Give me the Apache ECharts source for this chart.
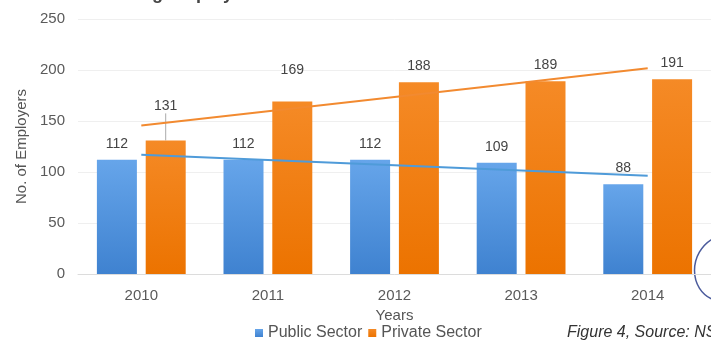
<!DOCTYPE html>
<html>
<head>
<meta charset="utf-8">
<script src="https://cdn.jsdelivr.net/npm/echarts@6/dist/echarts.min.js"></script>
<style>
  html, body { margin: 0; padding: 0; background: #fff; }
  #chart { width: 711px; height: 340px; }
</style>
</head>
<body>
<div id="chart"></div>
<script>
// Employers per sector, 2010-2014
const years = ['2010', '2011', '2012', '2013', '2014'];
const publicSector = [112, 112, 112, 109, 88];
const privateSector = [131, 169, 188, 189, 191];
const yTicks = { min: 0, max: 250, step: 50 };

// Extra lift for private-sector labels that would collide with the trend line
const privateLabelLift = [-18, -15, 0, 0, 0];

// Least-squares linear trend over the category index
function linearTrend(values) {
  const n = values.length;
  const xs = values.map((_, i) => i);
  const mx = xs.reduce((a, b) => a + b, 0) / n;
  const my = values.reduce((a, b) => a + b, 0) / n;
  let num = 0, den = 0;
  for (let i = 0; i < n; i++) {
    num += (xs[i] - mx) * (values[i] - my);
    den += (xs[i] - mx) * (xs[i] - mx);
  }
  const slope = num / den;
  return xs.map(x => +(my + slope * (x - mx)).toFixed(3));
}

const FONT = 'Liberation Sans, Arial, Helvetica, sans-serif';
const BLUE = new echarts.graphic.LinearGradient(0, 0, 0, 1, [
  { offset: 0, color: '#66a5ea' }, { offset: 1, color: '#3f82d0' }
]);
const ORANGE = new echarts.graphic.LinearGradient(0, 0, 0, 1, [
  { offset: 0, color: '#f58a26' }, { offset: 1, color: '#ec7300' }
]);

const chart = echarts.init(document.getElementById('chart'), null, { renderer: 'canvas' });

chart.setOption({
  animation: false,
  backgroundColor: '#ffffff',
  textStyle: { fontFamily: FONT },
  title: {
    text: 'Sector-wise Hiring Employers',
    left: 0,
    top: -20,
    textStyle: { fontFamily: FONT, fontSize: 18, fontWeight: 'bold', color: '#444' }
  },
  grid: { left: 78, right: -2, top: 19, bottom: 66, containLabel: false },
  legend: {
    data: ['Public Sector', 'Private Sector'],
    left: 250,
    top: 320,
    itemWidth: 8,
    itemHeight: 8,
    itemGap: 6,
    icon: 'rect',
    textStyle: { fontFamily: FONT, fontSize: 16, color: '#555', padding: [0, 0, 0, 0] }
  },
  xAxis: {
    type: 'category',
    data: years,
    name: 'Years',
    nameLocation: 'middle',
    nameGap: 34,
    nameTextStyle: { fontFamily: FONT, fontSize: 15, color: '#555' },
    axisLine: { lineStyle: { color: '#dcdcdc' } },
    axisTick: { show: false },
    axisLabel: { fontFamily: FONT, fontSize: 15, color: '#5a5a5a', margin: 14 }
  },
  yAxis: {
    type: 'value',
    min: yTicks.min,
    max: yTicks.max,
    interval: yTicks.step,
    name: 'No. of Employers',
    nameLocation: 'middle',
    nameGap: 43,
    nameTextStyle: { fontFamily: FONT, fontSize: 15, color: '#555' },
    axisLine: { show: false },
    axisTick: { show: false },
    axisLabel: { fontFamily: FONT, fontSize: 15, color: '#5a5a5a', margin: 13 },
    splitLine: { lineStyle: { color: '#efefef', width: 1 } }
  },
  series: [
    {
      name: 'Public Sector',
      type: 'bar',
      data: publicSector,
      barWidth: 40,
      barGap: '22%',
      itemStyle: { color: BLUE },
      label: {
        show: true, position: 'top', distance: 9,
        fontFamily: FONT, fontSize: 14, color: '#444'
      }
    },
    {
      name: 'Private Sector',
      type: 'bar',
      data: privateSector.map((v, i) => i === 0
        ? { value: v, labelLine: { show: true, lineStyle: { color: '#aaa', width: 1 } } }
        : v),
      barWidth: 40,
      itemStyle: { color: ORANGE },
      label: {
        show: true, position: 'top', distance: 9,
        fontFamily: FONT, fontSize: 14, color: '#444'
      },
      labelLayout: p => ({ dy: privateLabelLift[p.dataIndex] || 0 }),
      labelLine: { show: false }
    },
    {
      name: 'Public trend',
      type: 'line',
      data: linearTrend(publicSector),
      symbol: 'none',
      smooth: false,
      z: 5,
      lineStyle: { color: '#4f9bd9', width: 2 },
      tooltip: { show: false }
    },
    {
      name: 'Private trend',
      type: 'line',
      data: linearTrend(privateSector),
      symbol: 'none',
      smooth: false,
      z: 5,
      lineStyle: { color: '#f28a30', width: 2 },
      tooltip: { show: false }
    }
  ],
  graphic: [
    {
      type: 'text',
      left: 567,
      top: 325,
      style: {
        text: 'Figure 4, Source: NSI',
        font: 'italic 16px ' + FONT,
        fill: '#333'
      }
    },
    {
      type: 'bezierCurve',
      shape: { x1: 714, y1: 238, cpx1: 688, cpy1: 252, cpx2: 688, cpy2: 290, x2: 714, y2: 300 },
      style: { stroke: '#4b5b9c', lineWidth: 1.5, fill: null }
    }
  ]
});
</script>
</body>
</html>
